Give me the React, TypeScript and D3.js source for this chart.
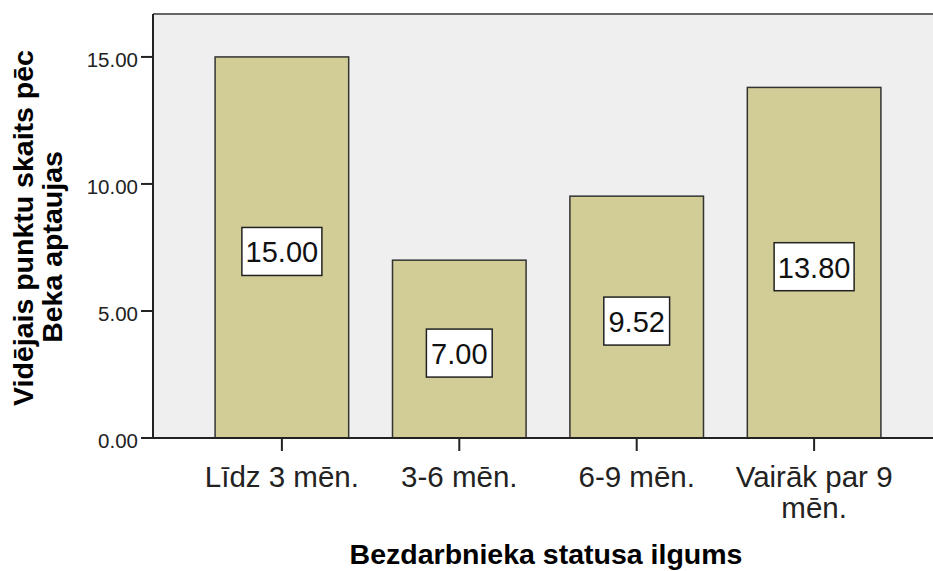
import React from "react";
import * as d3 from "d3";

const categories: string[][] = [["Līdz 3 mēn."], ["3-6 mēn."], ["6-9 mēn."], ["Vairāk par 9", "mēn."]];
const values: number[] = [15.0, 7.0, 9.52, 13.8];
const yTicks: number[] = [0, 5, 10, 15];
const yTitle: string[] = ["Vidējais punktu skaits pēc", "Beka aptaujas"];
const xTitle = "Bezdarbnieka statusa ilgums";

const W = 933;
const H = 571;
const plotL = 153;
const plotR = 943;
const plotT = 14;
const plotB = 438;

export default function App() {
  const x = d3
    .scaleBand<number>()
    .domain(values.map((_, i) => i))
    .range([plotL, plotR])
    .paddingInner(0.247)
    .paddingOuter(0.35);
  const y = d3.scaleLinear().domain([0, 16.69]).range([plotB, plotT]);
  const fmt = d3.format(".2f");
  const font = "'Liberation Sans', Arial, sans-serif";

  return (
    <svg
      width={W}
      height={H}
      style={{ position: "absolute", left: 0, top: 0, background: "#fff" }}
      fontFamily={font}
    >
      <rect x={plotL} y={plotT} width={W - plotL} height={plotB - plotT} fill="#efefef" />
      <line x1={plotL} x2={W} y1={plotT} y2={plotT} stroke="#666" strokeWidth={2} />
      {values.map((v, i) => (
        <rect
          key={i}
          x={x(i)!}
          y={y(v)}
          width={x.bandwidth()}
          height={plotB - y(v)}
          fill="#d2cd96"
          stroke="#333"
          strokeWidth={1.5}
        />
      ))}
      {values.map((v, i) => {
        const cx = x(i)! + x.bandwidth() / 2;
        const cy = y(v / 2) + 4;
        const label = fmt(v);
        const tw = label.length * 14.2 + (label.includes(".") ? -6 : 0);
        const bw = tw + 15;
        return (
          <g key={"l" + i}>
            <rect
              x={cx - bw / 2}
              y={cy - 24}
              width={bw}
              height={48}
              fill="#fff"
              stroke="#222"
              strokeWidth={1.5}
            />
            <text x={cx} y={cy + 11} textAnchor="middle" fontSize={29} fill="#111">
              {label}
            </text>
          </g>
        );
      })}
      <line x1={plotL} x2={W} y1={plotB} y2={plotB} stroke="#222" strokeWidth={2} />
      <line x1={plotL} x2={plotL} y1={plotT} y2={plotB} stroke="#222" strokeWidth={2} />
      {yTicks.map((t) => (
        <g key={"t" + t}>
          <line x1={plotL - 12} x2={plotL} y1={y(t)} y2={y(t)} stroke="#222" strokeWidth={2} />
          <text x={plotL - 15} y={y(t) + 10} textAnchor="end" fontSize={20.5} fill="#222">
            {fmt(t)}
          </text>
        </g>
      ))}
      {categories.map((lines, i) => {
        const cx = x(i)! + x.bandwidth() / 2;
        return (
          <g key={"c" + i}>
            <line x1={cx} x2={cx} y1={plotB} y2={plotB + 13} stroke="#222" strokeWidth={2} />
            {lines.map((ln, j) => (
              <text key={j} x={cx} y={487 + j * 31} textAnchor="middle" fontSize={29.5} fill="#222">
                {ln}
              </text>
            ))}
          </g>
        );
      })}
      <text
        transform={`translate(33,228) rotate(-90)`}
        textAnchor="middle"
        fontSize={28.5}
        fontWeight="bold"
        fill="#000"
      >
        {yTitle[0]}
      </text>
      <text
        transform={`translate(62,247) rotate(-90)`}
        textAnchor="middle"
        fontSize={28.5}
        fontWeight="bold"
        fill="#000"
      >
        {yTitle[1]}
      </text>
      <text x={546} y={564} textAnchor="middle" fontSize={28.5} fontWeight="bold" fill="#000">
        {xTitle}
      </text>
    </svg>
  );
}
